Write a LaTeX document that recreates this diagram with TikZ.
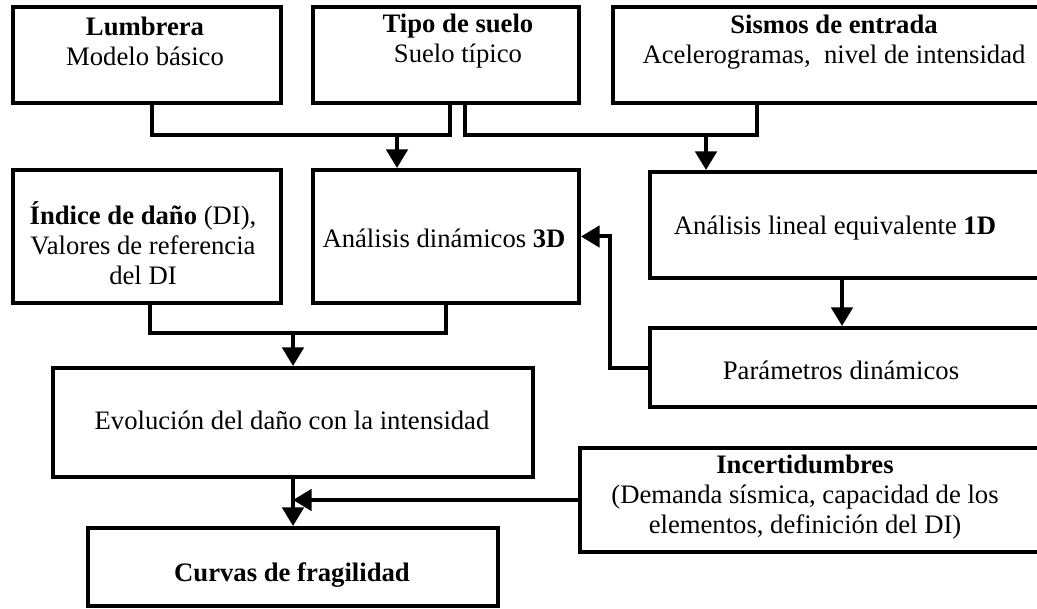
\documentclass[tikz,border=0pt]{standalone}
\usepackage{fontspec}
\setmainfont{Liberation Serif}
\usetikzlibrary{fit,arrows.meta,calc}
\begin{document}
\begin{tikzpicture}[x=0.75pt,y=-0.75pt,
  box/.style={draw,line width=3pt,inner sep=0pt},
  txt/.style={align=center,inner sep=0pt,font=\fontsize{20}{22.5}\selectfont},
  conn/.style={line width=3pt},
  arr/.style={line width=3pt,-{Triangle[length=14pt,width=16pt]}}]
\useasboundingbox[fill=white] (0,0) rectangle (1037,609);
\clip (0,0) rectangle (1037,609);
% boxes
\node[box,fit={(13,7) (281,103)}] (b1) {};
\node[box,fit={(313,7) (579,103)}] (b2) {};
\node[box,fit={(613,7) (1060,103)}] (b3) {};
\node[box,fit={(13,170) (281,303)}] (b4) {};
\node[box,fit={(313,170) (579,303)}] (b5) {};
\node[box,fit={(650,172) (1060,278)}] (b6) {};
\node[box,fit={(650,328) (1060,407)}] (b7) {};
\node[box,fit={(53,368) (533,477)}] (b8) {};
\node[box,fit={(88,528) (498,606)}] (b9) {};
\node[box,fit={(580,448) (1060,552)}] (b10) {};
% texts
\node[txt] (t1) at (145,41) {\textbf{Lumbrera}\\Modelo básico};
\node[txt] (t2) at (458,41) {\textbf{Tipo de suelo}\\Suelo típico};
\node[txt] (t3) at (834,42) {\textbf{Sismos de entrada}\\Acelerogramas,\ \ nivel de intensidad};
\node[txt] (t4) at (143,243) {\textbf{Índice de daño} (DI),\\Valores de referencia\\del DI};
\node[txt] (t5) at (444,238) {Análisis dinámicos \textbf{3D}};
\node[txt] (t6) at (835,228) {Análisis lineal equivalente \textbf{1D}};
\node[txt] (t7) at (841,370) {Parámetros dinámicos};
\node[txt] (t8) at (292,420) {Evolución del daño con la intensidad};
\node[txt] (t9) at (292,575) {\textbf{Curvas de fragilidad}};
\node[txt] (t10) at (805,497) {\textbf{Incertidumbres}\\(Demanda sísmica, capacidad de los\\elementos, definición del DI)};
% junction coordinates
\coordinate (m1) at (0,135);
\coordinate (m2) at (0,333);
\coordinate (p1) at ($(b1.south)+(5,0)$);
\coordinate (p2) at ($(b2.south)+(4,0)$);
\coordinate (p3) at (465,103);
\coordinate (p4) at (757,103);
\coordinate (p5) at ($(b4.south)+(3,0)$);
\coordinate (a1) at (397,135);
\coordinate (a2) at (706,135);
\coordinate (a3) at (842,0);
\coordinate (k1) at (610,0);
% connectors
\draw[conn] (p1) |- (m1 -| p2) -- (p2);
\draw[conn] (p3) |- (m1 -| p4) -- (p4);
\draw[arr] (a1) -- (a1 |- b5.north);
\draw[arr] (a2) -- (a2 |- b6.north);
\draw[conn] (p5) |- (m2 -| b5.south) -- (b5.south);
\draw[arr] (m2 -| b8.north) -- (b8.north);
\draw[arr] (a3 |- b6.south) -- (a3 |- b7.north);
\draw[arr] (b7.west) -| (k1 |- b5.east) -- (b5.east);
\draw[arr] (b8.south) -- (b9.north);
\draw[arr] (b10.west) -- (b8.south |- b10.west);
\end{tikzpicture}
\end{document}
